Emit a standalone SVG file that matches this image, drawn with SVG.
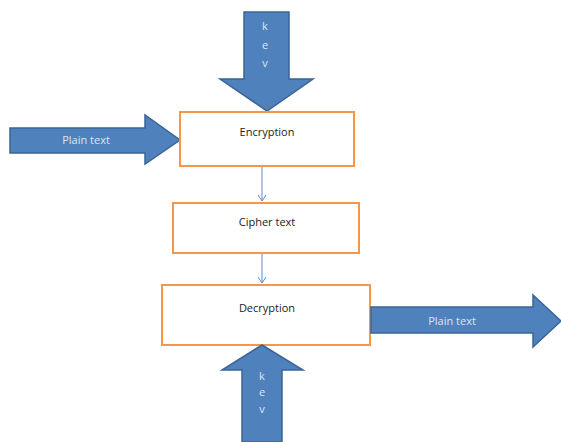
<svg xmlns="http://www.w3.org/2000/svg" width="561" height="442" viewBox="0 0 561 442">
<defs>
<style>
.big{fill:#4F81BD;stroke:#3A6597;stroke-width:1.5}
.box{fill:#fff;stroke:#F79646;stroke-width:2}
.lbl{font-family:"Open Sans","Liberation Sans",sans-serif;font-size:11px;fill:#222;text-anchor:middle}
.wl{font-family:"Open Sans","Liberation Sans",sans-serif;font-size:11px;fill:#DCE6F2;text-anchor:middle}
.con{stroke:#5B8BC4;stroke-width:1;fill:none}
</style>
<marker id="ah" markerWidth="10" markerHeight="10" refX="8" refY="5" orient="auto" markerUnits="userSpaceOnUse" viewBox="0 0 10 10">
<path d="M2,1 L8,5 L2,9" fill="none" stroke="#5B8BC4" stroke-width="1"/>
</marker>
</defs>
<rect width="561" height="442" fill="#fff"/>
<g id="key-top">
<path class="big" d="M244,12 H289 V79 H313 L267,111 L220,79 H244 Z"/>
<text class="wl" x="265" y="30">k</text>
<text class="wl" x="265" y="49">e</text>
<text class="wl" x="265" y="67">v</text>
</g>
<g id="plain-in">
<path class="big" d="M10,128 H145 V115 L180,140 L145,164 V153 H10 Z"/>
<text class="wl" x="86" y="144">Plain text</text>
</g>
<g id="encryption">
<rect class="box" x="180" y="112" width="174" height="54"/>
<text class="lbl" x="267" y="136">Encryption</text>
</g>
<g id="cipher">
<rect class="box" x="173" y="203" width="186" height="50"/>
<text class="lbl" x="267" y="226">Cipher text</text>
</g>
<g id="decryption">
<rect class="box" x="162" y="285" width="208" height="60"/>
<text class="lbl" x="267" y="312">Decryption</text>
</g>
<g id="plain-out">
<path class="big" d="M371,307 H533 V295 L561,321 L533,347 V333 H371 Z"/>
<text class="wl" x="452" y="325">Plain text</text>
</g>
<g id="key-bottom">
<path class="big" d="M262,345 L303,370 H282 V442 H242 V370 H222 Z"/>
<text class="wl" x="262" y="380">k</text>
<text class="wl" x="262" y="396">e</text>
<text class="wl" x="262" y="413">v</text>
</g>
<g id="connectors">
<line class="con" x1="262" y1="167" x2="262" y2="201" marker-end="url(#ah)"/>
<line class="con" x1="262" y1="254" x2="262" y2="283" marker-end="url(#ah)"/>
</g>
</svg>
